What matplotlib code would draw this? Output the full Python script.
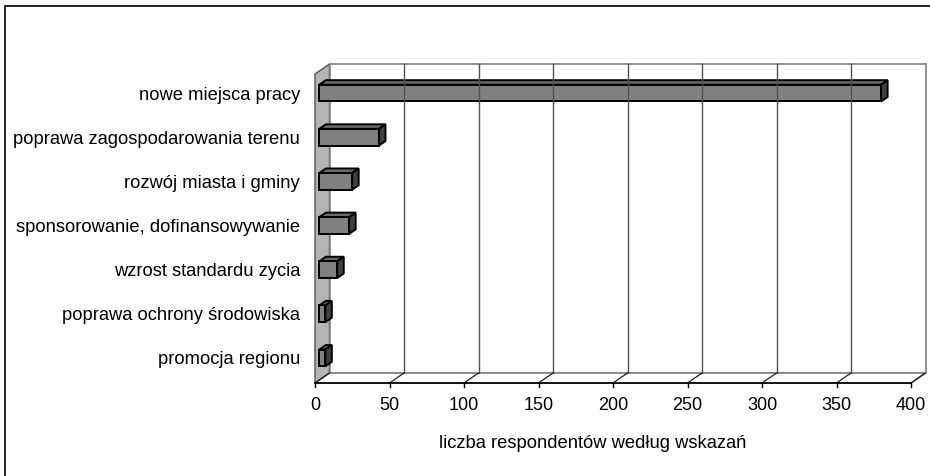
import numpy as np
import matplotlib
matplotlib.use("Agg")
from matplotlib import pyplot as plt
from matplotlib.patches import Polygon, Rectangle

# categories from top to bottom, as in the chart
categories = [
    "nowe miejsca pracy",
    "poprawa zagospodarowania terenu",
    "rozwój miasta i gminy",
    "sponsorowanie, dofinansowywanie",
    "wzrost standardu zycia",
    "poprawa ochrony środowiska",
    "promocja regionu",
]
values = [377, 40, 22, 20, 12, 4, 4]
x_ticks = [0, 50, 100, 150, 200, 250, 300, 350, 400]
x_label = "liczba respondentów według wskazań"

plt.rcParams['font.family'] = ['Liberation Sans', 'DejaVu Sans']

W, H = 930, 476
fig = plt.figure(figsize=(W / 100, H / 100), dpi=100)

# outer frame of the chart object (runs off the bottom and right edges)
fig.patches.append(Rectangle((5 / W, -0.05), (940 - 5) / W, 1.05 - 6 / H,
                             transform=fig.transFigure, fill=False,
                             edgecolor='black', linewidth=1.2))

# front plane of the plot area in pixels
x0p, x1p = 315, 911
ytop, ybot = 74, 383
ax = fig.add_axes([x0p / W, 1 - ybot / H, (x1p - x0p) / W, (ybot - ytop) / H])
n = len(categories)
xmax = x_ticks[-1]
ax.set_xlim(0, xmax)
ax.set_ylim(-0.5, n - 0.5)
ax.axis('off')

# depth of the 3d box in data units
px_x = xmax / (x1p - x0p)
px_y = n / (ybot - ytop)
DX, DY = 14.5 * px_x, 10 * px_y


def poly(pts, **kw):
    p = Polygon(pts, closed=True, clip_on=False, **kw)
    ax.add_patch(p)


# side wall
poly([(0, -0.5), (DX, -0.5 + DY), (DX, n - 0.5 + DY), (0, n - 0.5)],
     facecolor='#b4b4b4', edgecolor='#555555', linewidth=1)
# back wall
poly([(DX, -0.5 + DY), (xmax + DX, -0.5 + DY), (xmax + DX, n - 0.5 + DY),
      (DX, n - 0.5 + DY)], facecolor='white', edgecolor='#808080', linewidth=1.2)
# floor
poly([(0, -0.5), (xmax, -0.5), (xmax + DX, -0.5 + DY), (DX, -0.5 + DY)],
     facecolor='white', edgecolor='#808080', linewidth=1.2)

# gridlines on back wall and floor
for t in x_ticks[1:-1]:
    ax.plot([t + DX, t + DX], [-0.5 + DY, n - 0.5 + DY], color='#505050',
            linewidth=1, clip_on=False)
for t in x_ticks:
    ax.plot([t, t + DX], [-0.5, -0.5 + DY], color='#202020', linewidth=0.9,
            clip_on=False)

# front axis line and ticks
ax.plot([0, xmax], [-0.5, -0.5], color='black', linewidth=1.2, clip_on=False)
for t in x_ticks:
    ax.plot([t, t], [-0.5, -0.5 - 4 * px_y], color='black', linewidth=1,
            clip_on=False)
    ax.text(t, -0.5 - 14 * px_y, str(t), ha='center', va='top', fontsize=13)

# bars (3d boxes)
bh = 0.38
f0, f1 = 0.3, 0.75
for i, (cat, v) in enumerate(zip(categories, values)):
    yc = n - 1 - i
    ox, oy = f0 * DX, f0 * DY
    bx, by = (f1 - f0) * DX, (f1 - f0) * DY
    yb, yt = yc - bh / 2 + oy, yc + bh / 2 + oy
    xl, xr = ox, ox + v
    # top face
    poly([(xl, yt), (xr, yt), (xr + bx, yt + by), (xl + bx, yt + by)],
         facecolor='#6a6a6a', edgecolor='black', linewidth=1.4)
    # side face
    poly([(xr, yb), (xr + bx, yb + by), (xr + bx, yt + by), (xr, yt)],
         facecolor='#404040', edgecolor='black', linewidth=1.4)
    # front face
    poly([(xl, yb), (xr, yb), (xr, yt), (xl, yt)],
         facecolor='#808080', edgecolor='black', linewidth=1.4)
    ax.text(-15 * px_x, yc + 1 * px_y, cat, ha='right', va='center', fontsize=13.2)

fig.text(593 / W, 1 - 444 / H, x_label, ha='center', va='center', fontsize=13.2)

fig.savefig("out.png", dpi=100)
